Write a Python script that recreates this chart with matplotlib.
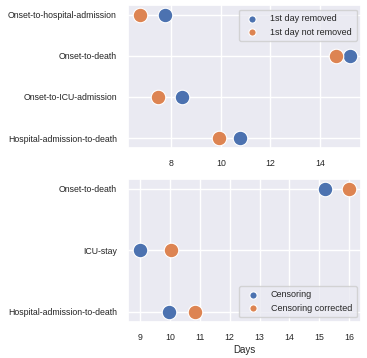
import matplotlib
matplotlib.use("Agg")
import matplotlib.pyplot as plt
import seaborn as sns
import numpy as np

# top panel: first day removed vs not
top_labels = ["Onset-to-hospital-admission", "Onset-to-death",
              "Onset-to-ICU-admission", "Hospital-admission-to-death"]
top_removed = [7.76, 15.2, 8.45, 10.78]
top_not_removed = [6.74, 14.65, 7.47, 9.93]

# bottom panel: censoring vs corrected
bot_labels = ["Onset-to-death", "ICU-stay", "Hospital-admission-to-death"]
bot_censoring = [15.2, 9.0, 9.97]
bot_corrected = [16.0, 10.05, 10.85]

sns.set_theme(style="darkgrid")
plt.rcParams["font.family"] = ["Liberation Sans", "DejaVu Sans"]

blue, orange = sns.color_palette()[0], sns.color_palette()[1]

fig, (ax1, ax2) = plt.subplots(2, 1, figsize=(3.67, 3.58), dpi=100)
fig.subplots_adjust(left=0.349, right=0.984, top=0.986, bottom=0.101, hspace=0.217)


def draw(ax, labels, a, b, name_a, name_b, loc, pad):
    y = np.arange(len(labels))
    ax.scatter(a, y, s=110, color=blue, edgecolor="white", linewidth=0.8, label=name_a, zorder=3)
    ax.scatter(b, y, s=110, color=orange, edgecolor="white", linewidth=0.8, label=name_b, zorder=3)
    ax.set_yticks(y)
    ax.set_yticklabels(labels)
    ax.set_ylim(len(labels) - 1 + pad, -pad)
    ax.tick_params(labelsize=6.3, pad=2)
    ax.legend(loc=loc, fontsize=6.5, markerscale=0.5, framealpha=0.8,
              handletextpad=1.0, borderpad=0.5, labelspacing=0.5)


draw(ax1, top_labels, top_removed, top_not_removed,
     "1st day removed", "1st day not removed", "upper right", 0.24)
ax1.set_xlim(6.26, 15.66)
ax1.set_xticks([8, 10, 12, 14])

draw(ax2, bot_labels, bot_censoring, bot_corrected,
     "Censoring", "Censoring corrected", "lower right", 0.16)
ax2.set_xlim(8.6, 16.4)
ax2.set_xticks(range(9, 17))
ax2.set_xlabel("Days", fontsize=7, labelpad=2)

fig.savefig("out.png", dpi=100)
